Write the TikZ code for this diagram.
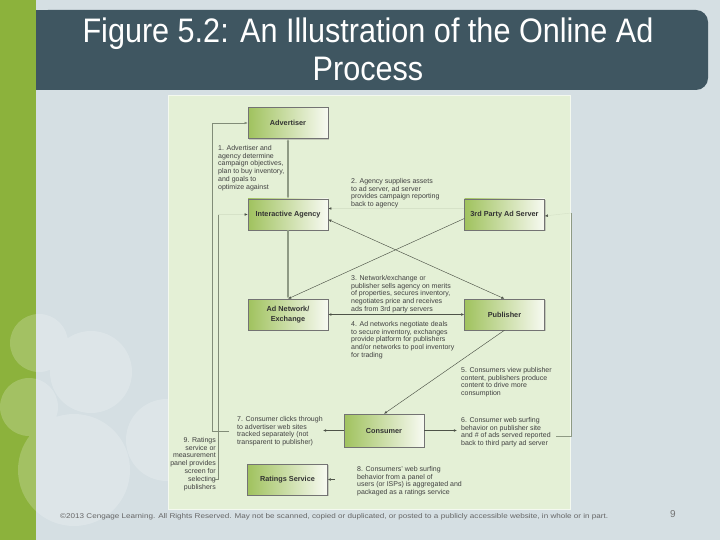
\documentclass[tikz,border=0pt]{standalone}
\usepackage{fontspec}
\setmainfont{Liberation Sans}
\newfontfamily\titlefont[FakeStretch=0.9]{Liberation Sans}
\usetikzlibrary{arrows.meta,shadows}

\definecolor{slide}{HTML}{D5DFE3}
\definecolor{stripe}{HTML}{8CB23C}
\definecolor{banner}{HTML}{3F5661}
\definecolor{panel}{HTML}{E4F0D6}
\definecolor{boxgreen}{HTML}{A0C25E}
\definecolor{conn}{HTML}{4D5348}
\definecolor{gline}{HTML}{8E9A84}
\definecolor{faint}{HTML}{D6E2C8}

\tikzset{
  stage/.style={draw=black!55, line width=0.4pt, left color=boxgreen, right color=white!92!boxgreen,
    minimum width=80pt, minimum height=31pt, align=center, text=black!80,
    font=\fontsize{7.3}{9.5}\selectfont\bfseries,
    drop shadow={shadow xshift=1.3pt, shadow yshift=-1.3pt, opacity=0.35}},
  note/.style={align=left, anchor=north west, inner sep=0pt, text=black!75,
    font=\fontsize{7}{7.8}\selectfont},
  arrowhd/.style={-{Latex[length=3.2pt,width=2.6pt]}},
  both/.style={{Latex[length=3.2pt,width=2.6pt]}-{Latex[length=3.2pt,width=2.6pt]}},
  flow/.style={conn, line width=0.45pt},
  trunk/.style={gline, line width=1.6pt},
  ghost/.style={faint, line width=0.45pt, -{Latex[length=3.2pt,width=2.6pt,color=conn]}},
}

\begin{document}
\begin{tikzpicture}[x=1pt,y=-1pt]
\useasboundingbox (0,0) rectangle (720,540);
%\draw[gray,very thin] (0,0) grid[step=20] (720,540);
\fill[slide] (0,0) rectangle (720,540);
\fill[stripe] (0,0) rectangle (36,540);
\fill[white,opacity=0.2] (39,343) circle (29) (91,372) circle (41) (29,407) circle (29)
  (74,470) circle (56) (167,440) circle (41);

% title
\fill[banner,rounded corners=12pt] (36,10) rectangle (708,90);
\fill[banner] (36,10) rectangle (60,90);
\node[align=center,text=white,font=\titlefont\fontsize{34}{38}\selectfont] (title) at (368,49)
  {Figure 5.2: An Illustration of the Online Ad\\Process};

% panel
\fill[panel] (168,96) rectangle (570,509);
\draw[white!60!panel,line width=1pt] (168,96) rectangle (570,509);

\node[stage] (adv) at (288,123) {Advertiser};
\node[stage] (agency) at (288,214.5) {Interactive Agency};
\node[stage] (server) at (504.5,214.5) {3rd Party Ad Server};
\node[stage] (network) at (288,314.5) {Ad Network/\\Exchange};
\node[stage] (publisher) at (504.5,314.5) {Publisher};
\node[stage,minimum height=33pt] (consumer) at (384,430.5) {Consumer};
\node[stage] (ratings) at (287.5,479.5) {Ratings Service};

\node[note] (n1) at (218,145) {1. Advertiser and\\agency determine\\campaign objectives,\\plan to buy inventory,\\and goals to\\optimize against};
\node[note] (n2) at (351,178) {2. Agency supplies assets\\to ad server, ad server\\provides campaign reporting\\back to agency};
\node[note] (n3) at (351,275) {3. Network/exchange or\\publisher sells agency on merits\\of properties, secures inventory,\\negotiates price and receives\\ads from 3rd party servers};
\node[note] (n4) at (351,321) {4. Ad networks negotiate deals\\to secure inventory, exchanges\\provide platform for publishers\\and/or networks to pool inventory\\for trading};
\node[note] (n5) at (461,367) {5. Consumers view publisher\\content, publishers produce\\content to drive more\\consumption};
\node[note] (n6) at (461,417) {6. Consumer web surfing\\behavior on publisher site\\and \# of ads served reported\\back to third party ad server};
\node[note] (n7) at (237,416) {7. Consumer clicks through\\to advertiser web sites\\tracked separately (not\\transparent to publisher)};
\node[note] (n8) at (357,466) {8. Consumers' web surfing\\behavior from a panel of\\users (or ISPs) is aggregated and\\packaged as a ratings service};
\node[note,anchor=north east,align=right] (n9) at (216,437) {9. Ratings\\service or\\measurement\\panel provides\\screen for\\selecting\\publishers};

\coordinate (c6) at (457,430.5);
\coordinate (r6) at (556,436);
\coordinate (k6) at (571,213);
\coordinate (c7) at (323,430.5);
\coordinate (o7) at (229,431);
\coordinate (c8) at (335,479.5);
\coordinate (i9) at (214,479);
\coordinate (k9) at (218,214.5);

\draw[trunk,both] (adv.south) -- (agency.north);
\draw[trunk,arrowhd] (agency.south) -- (network.north);
\draw[ghost,{Latex[length=3.2pt,width=2.6pt,color=conn]}-] ([yshift=6pt]agency.east) -- ([yshift=6pt]server.west);
\draw[flow,arrowhd] ([yshift=-4pt]server.west) -- (network.north);
\draw[flow,both] ([yshift=-5pt]agency.east) -- (publisher.north);
\draw[flow,both] (network) -- (publisher);
\draw[flow,arrowhd] (publisher.south) -- (consumer.north);
\draw[flow,arrowhd] (consumer) -- (c6);
\draw[flow,gline] (r6) -| (k6);
\draw[ghost] (k6) -- ([yshift=-1.5pt]server.east);
\draw[flow,arrowhd] (consumer) -- (c7);
\draw[flow,gline!80!conn,arrowhd] (o7) -| ([xshift=-36pt]adv.west) -- (adv.west);
\draw[flow,arrowhd] (c8) -- (ratings.east);
\draw[flow,gline!80!conn] (i9) -| (k9);
\draw[ghost] (k9) -- (agency.west);

% footer
\node[anchor=west,inner sep=0pt,text=black!60] (foot) at (60,517)
  {\resizebox{548pt}{5pt}{\fontsize{7}{8}\selectfont \textcopyright2013 Cengage Learning. All Rights Reserved. May not be scanned, copied or duplicated, or posted to a publicly accessible website, in whole or in part.}};
\node[text=black!55,font=\fontsize{10}{12}\selectfont] (page) at (673,514) {9};
\end{tikzpicture}
\end{document}
